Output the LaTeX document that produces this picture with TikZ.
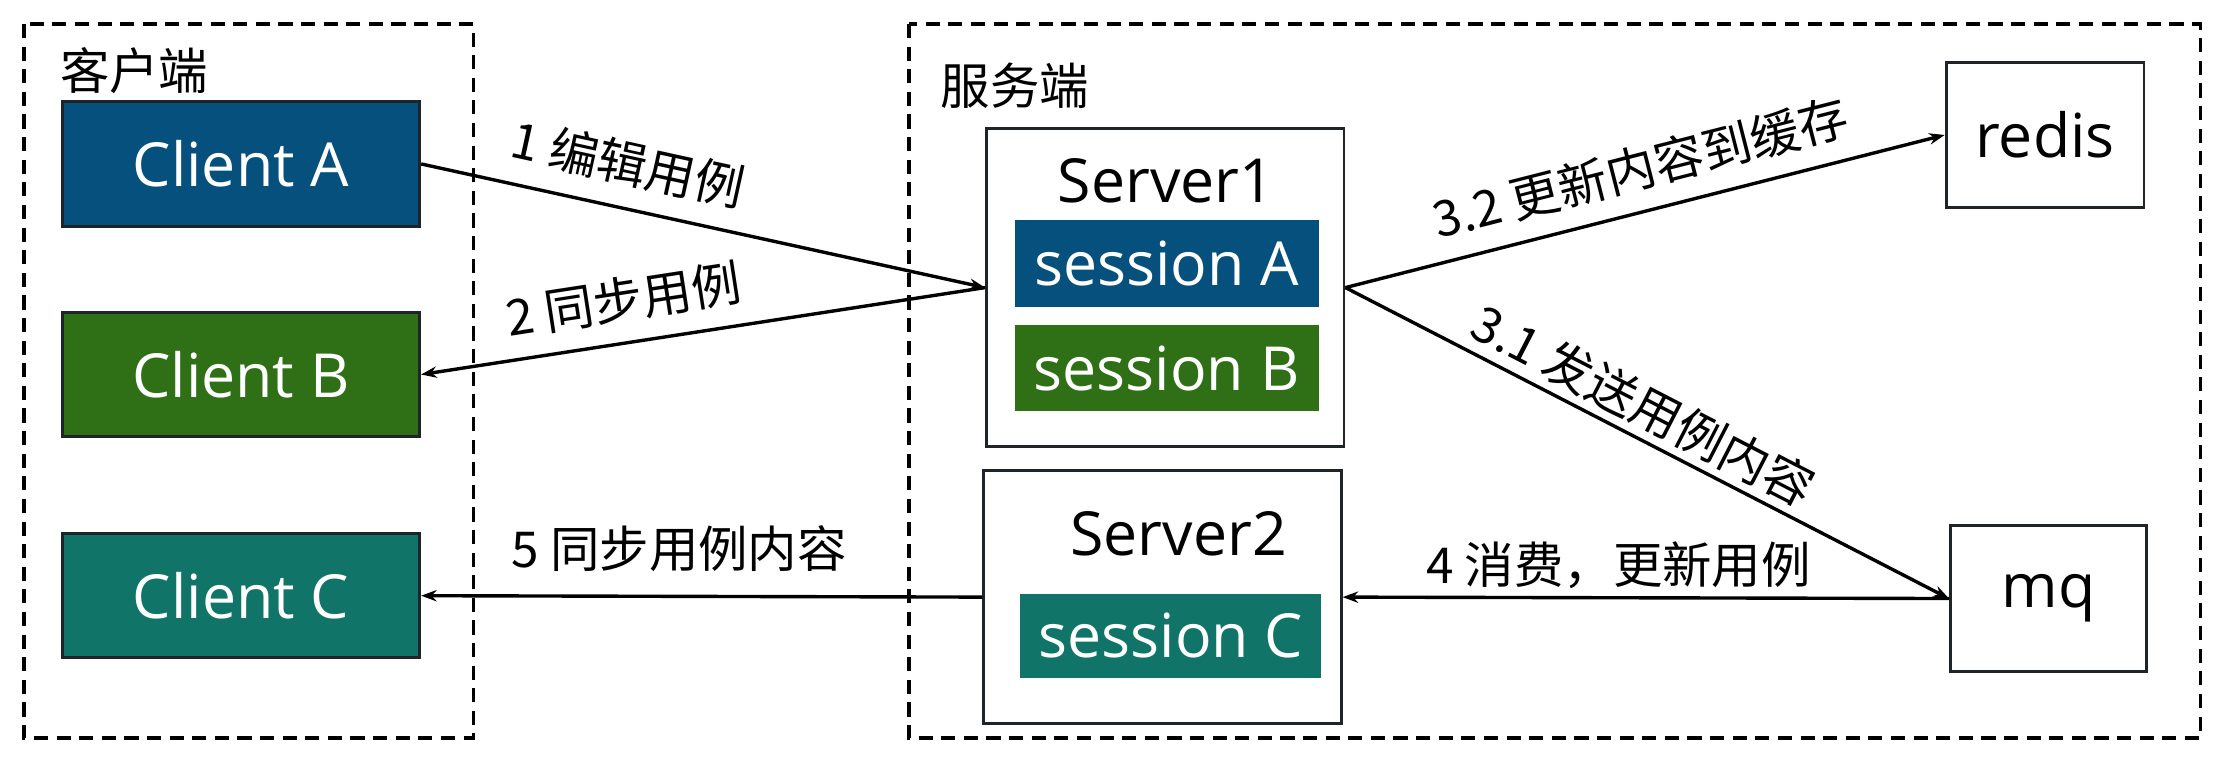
\documentclass[tikz,border=0pt]{standalone}
\usepackage{fontspec}
\setmainfont{Open Sans}
\newfontfamily\cjk{Noto Sans CJK SC}
\usetikzlibrary{arrows.meta}
\definecolor{cblue}{RGB}{5,80,125}
\definecolor{cgreen}{RGB}{47,112,23}
\definecolor{cteal}{RGB}{17,116,104}
\definecolor{cedge}{RGB}{30,36,42}
\begin{document}
\begin{tikzpicture}[x=1pt,y=-1pt,
  big/.style={font=\fontsize{43}{50}\selectfont},
  clientbox/.style={draw=cedge, line width=2pt, text=white, minimum width=253pt, minimum height=88pt, inner sep=0pt, big},
  sessionbox/.style={text=white, minimum width=215pt, minimum height=61pt, inner sep=0pt, big},
  plainbox/.style={draw=cedge, line width=2pt, inner sep=0pt},
  groupbox/.style={draw=black, line width=2.5pt, dash pattern=on 10pt off 6pt},
  conn/.style={line width=2.4pt, draw=black, -{Stealth[length=11pt,width=8pt]}},
  lbl/.style={font=\cjk\fontsize{35}{40}\selectfont, inner sep=0pt},
  grouplbl/.style={font=\cjk\fontsize{35}{40}\selectfont, inner sep=0pt}
]
\useasboundingbox (0,0) rectangle (1568,538);
\fill[white] (0,0) rectangle (1568,538);

% group boxes
\draw[groupbox] (17,17) rectangle (335,522);
\draw[groupbox] (643,17) rectangle (1557,522);
\node[grouplbl] (gclient) at (95,50) {客户端};
\node[grouplbl] (gserver) at (718,61) {服务端};

% clients
\node[clientbox, fill=cblue] (ca) at (170.5,116) {Client A};
\node[clientbox, fill=cgreen] (cb) at (170.5,265) {Client B};
\node[clientbox, fill=cteal] (cc) at (170.5,421.5) {Client C};

% servers
\node[plainbox, minimum width=253pt, minimum height=225pt] (s1) at (824.5,203.5) {};
\node[big] (s1label) at (825,128) {Server1};
\node[sessionbox, fill=cblue] (sa) at (825.5,186.5) {session A};
\node[sessionbox, fill=cgreen] (sb) at (825.5,260.5) {session B};

\node[plainbox, minimum width=253pt, minimum height=179pt] (s2) at (822.5,422.5) {};
\node[big] (s2label) at (834,378) {Server2};
\node[sessionbox, fill=cteal, minimum width=213pt, minimum height=60pt] (sc) at (828.5,450) {session C};

% redis, mq
\node[plainbox, big, minimum width=140pt, minimum height=103pt] (redis) at (1447,95.5) {redis};
\node[plainbox, big, minimum width=139pt, minimum height=103pt] (mq) at (1449.5,423.5) {mq};

% connectors
\draw[conn] (ca.east) -- node[lbl, sloped, above=14pt, pos=0.35] {1 编辑用例} (s1.west);
\draw[conn] (s1.west) -- node[lbl, sloped, above=13pt, pos=0.63] {2 同步用例} (cb.east);
\draw[conn] (s1.east) -- node[lbl, sloped, above=13pt, pos=0.51] {3.2 更新内容到缓存} (redis.west);
\draw[conn] (s1.east) -- node[lbl, sloped, above=5pt, pos=0.47] {3.1 发送用例内容} (mq.west);
\draw[conn] (mq.west) -- node[lbl, above=5pt, pos=0.545] {4 消费，更新用例} (s2.east);
\draw[conn] (s2.west) -- node[lbl, above=16pt, pos=0.54] {5 同步用例内容} (cc.east);
\end{tikzpicture}
\end{document}
